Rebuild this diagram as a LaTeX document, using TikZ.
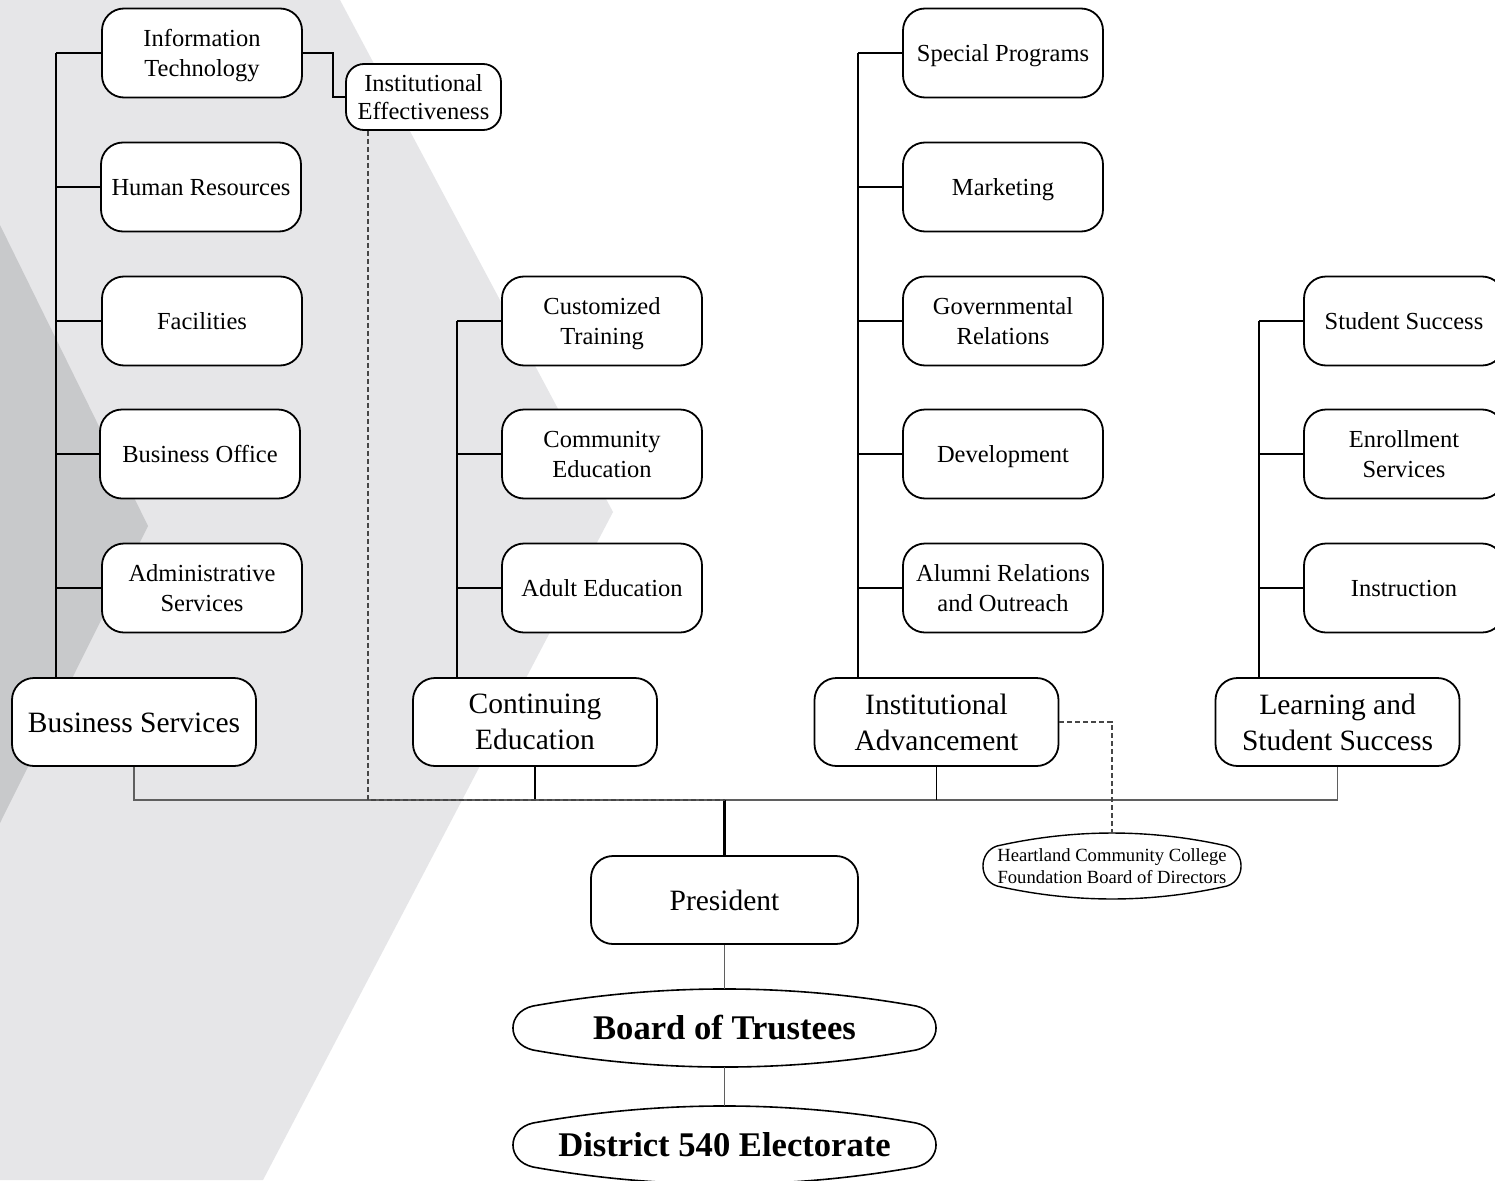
\documentclass[tikz,border=0pt]{standalone}
\usepackage{fontspec}
\setmainfont{Liberation Serif}
\usetikzlibrary{calc}
\definecolor{bglight}{RGB}{230,230,232}
\definecolor{bgdark}{RGB}{200,201,203}
\definecolor{busgray}{RGB}{95,95,95}
\definecolor{dashgray}{RGB}{70,70,70}
\tikzset{
  box/.style={draw=black, line width=1.8pt, fill=white, rounded corners=22pt,
    minimum width=200pt, minimum height=89pt, inner sep=0pt, align=center,
    text depth=0pt, font=\fontsize{24.5}{30}\selectfont},
  oneline/.style={box, text height=16.5pt},
  headbox/.style={box, minimum width=244pt, minimum height=88pt,
    font=\fontsize{29.5}{36}\selectfont},
  iebox/.style={box, minimum width=155pt, minimum height=66pt, rounded corners=18pt,
    font=\fontsize{24.5}{28}\selectfont},
  lenstext/.style={inner sep=0pt, align=center},
  lensline/.style={draw=black, line width=1.6pt, fill=white},
  conn/.style={draw=black, line width=1.3pt},
  heavyconn/.style={draw=black, line width=2.4pt},
  busline/.style={draw=busgray, line width=1.5pt},
  dashconn/.style={draw=dashgray, line width=1.3pt, dash pattern=on 5pt off 3pt},
}
\begin{document}
\begin{tikzpicture}[x=1pt,y=-1pt]
\useasboundingbox (0,0) rectangle (1495,1180);
\clip (0,0) rectangle (1495,1180);
% background
\fill[white] (0,0) rectangle (1495,1180);
\fill[bglight] (0,0) -- (340,0) -- (613,512) -- (263,1180) -- (0,1180) -- cycle;
\fill[bgdark] (0,225) -- (148,526) -- (0,823) -- cycle;

% coordinates for vertical spines and bus
\coordinate (bsx) at (56,700);
\coordinate (cex) at (457,700);
\coordinate (iax) at (858,700);
\coordinate (lssx) at (1259,700);
\coordinate (busy) at (724.5,800);
\coordinate (iedx) at (368,800);
\coordinate (itbend) at (333,75);

% Business Services group
\node[box] (it) at (202,53) {Information\\Technology};
\node[oneline] (hr) at (201,187) {Human Resources};
\node[oneline] (fac) at (202,321) {Facilities};
\node[oneline] (bo) at (200,454) {Business Office};
\node[box] (as) at (202,588) {Administrative\\Services};
\node[headbox, text height=20pt] (bs) at (134,722) {Business Services};
\node[iebox] (ie) at (423.5,97) {Institutional\\Effectiveness};

% Continuing Education group
\node[box] (ct) at (602,321) {Customized\\Training};
\node[box] (ced) at (602,454) {Community\\Education};
\node[oneline] (ae) at (602,588) {Adult Education};
\node[headbox] (ce) at (535,722) {Continuing\\Education};

% Institutional Advancement group
\node[oneline] (sp) at (1003,53) {Special Programs};
\node[oneline] (mk) at (1003,187) {Marketing};
\node[box] (gr) at (1003,321) {Governmental\\Relations};
\node[oneline] (dev) at (1003,454) {Development};
\node[box] (ar) at (1003,588) {Alumni Relations\\and Outreach};
\node[headbox] (ia) at (936.5,722) {Institutional\\Advancement};

% Learning and Student Success group
\node[oneline] (ss) at (1404,321) {Student Success};
\node[box] (es) at (1404,454) {Enrollment\\Services};
\node[oneline] (ins) at (1404,588) {Instruction};
\node[headbox] (lss) at (1337.5,722) {Learning and\\Student Success};

% President
\node[headbox, text height=20pt, minimum width=267pt] (pres) at (724.5,900) {President};

% lens-shaped nodes
\begin{scope}[shift={(724.5,1028)}]
\path[lensline] (-191.5,-22) .. controls (-63.8,-44.7) and (63.8,-44.7) .. (191.5,-22)
  .. controls (218.2,-16) and (218.2,16) .. (191.5,22)
  .. controls (63.8,44.7) and (-63.8,44.7) .. (-191.5,22)
  .. controls (-218.2,16) and (-218.2,-16) .. cycle;
\end{scope}
\node[lenstext, minimum width=423pt, minimum height=78pt, font=\bfseries\fontsize{34.6}{40}\selectfont] (board) at (724.5,1028) {Board of Trustees};
\begin{scope}[shift={(724.5,1145)}]
\path[lensline] (-191.5,-22) .. controls (-63.8,-44.7) and (63.8,-44.7) .. (191.5,-22)
  .. controls (218.2,-16) and (218.2,16) .. (191.5,22)
  .. controls (63.8,44.7) and (-63.8,44.7) .. (-191.5,22)
  .. controls (-218.2,16) and (-218.2,-16) .. cycle;
\end{scope}
\node[lenstext, minimum width=423pt, minimum height=78pt, font=\bfseries\fontsize{34.6}{40}\selectfont] (elect) at (724.5,1145) {District 540 Electorate};
\begin{scope}[shift={(1112,866)}]
\path[lensline, line width=1.4pt] (-115,-20) .. controls (-38.3,-37.3) and (38.3,-37.3) .. (115,-20)
  .. controls (133.7,-14) and (133.7,14) .. (115,20)
  .. controls (38.3,37.3) and (-38.3,37.3) .. (-115,20)
  .. controls (-133.7,14) and (-133.7,-14) .. cycle;
\end{scope}
\node[lenstext, minimum width=258pt, minimum height=66pt, font=\fontsize{18.6}{22}\selectfont] (hcc) at (1112,866) {Heartland Community College\\Foundation Board of Directors};

% connectors
\begin{scope}
\draw[heavyconn] (bsx |- it.west) -- (bsx |- bs.north);
\foreach \n in {it,hr,fac,bo,as} \draw[conn] (bsx |- \n.west) -- (\n.west);
\draw[conn] (cex |- ct.west) -- (cex |- ce.north);
\foreach \n in {ct,ced,ae} \draw[conn] (cex |- \n.west) -- (\n.west);
\draw[conn] (iax |- sp.west) -- (iax |- ia.north);
\foreach \n in {sp,mk,gr,dev,ar} \draw[conn] (iax |- \n.west) -- (\n.west);
\draw[conn] (lssx |- ss.west) -- (lssx |- lss.north);
\foreach \n in {ss,es,ins} \draw[conn] (lssx |- \n.west) -- (\n.west);
\draw[conn] (it.east) -- (it.east -| itbend) -- (itbend |- ie.west) -- (ie.west);
\draw[busline] (bs.south) -- (bs.south |- busy) -- (lss.south |- busy) -- (lss.south);
\draw[conn] (ce.south) -- (ce.south |- busy);
\draw[conn] (ia.south) -- (ia.south |- busy);
\draw[heavyconn] (pres.north) -- (busy);
\draw[dashconn] (iedx |- ie.south) -- (iedx) -- (busy);
\draw[dashconn] (ia.east) -- (ia.east -| hcc.north) -- (hcc.north);
\draw[conn, draw=busgray] (pres.south) -- (board.north);
\draw[conn, draw=busgray] (board.south) -- (elect.north);
\end{scope}
\end{tikzpicture}
\end{document}
